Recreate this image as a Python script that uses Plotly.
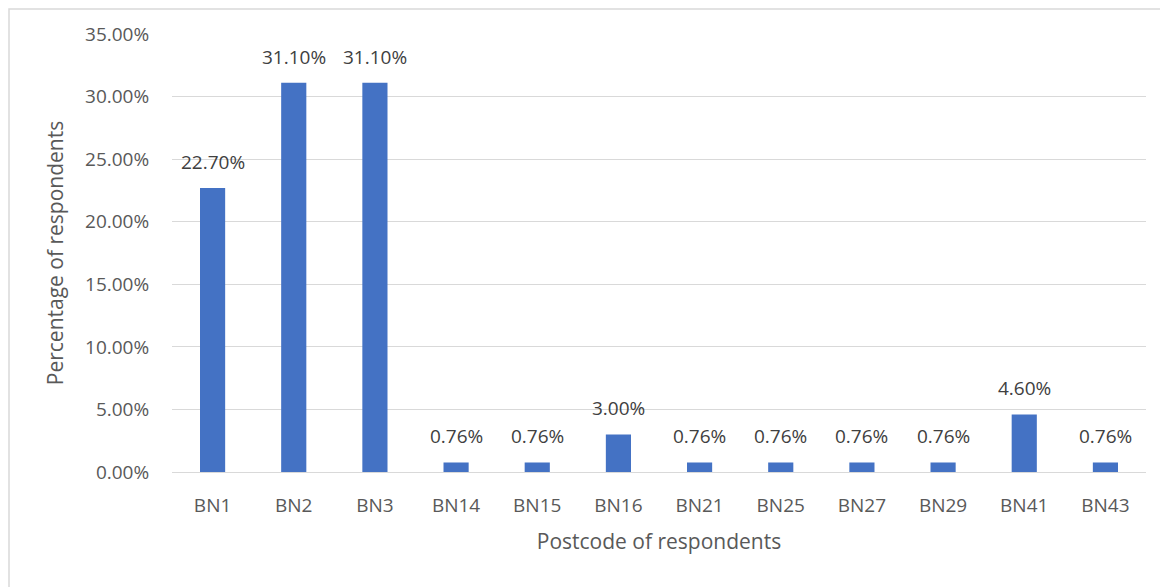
import plotly.graph_objects as go

categories = ["BN1", "BN2", "BN3", "BN14", "BN15", "BN16", "BN21", "BN25", "BN27", "BN29", "BN41", "BN43"]
values = [22.70, 31.10, 31.10, 0.76, 0.76, 3.00, 0.76, 0.76, 0.76, 0.76, 4.60, 0.76]
labels = ["22.70%", "31.10%", "31.10%", "0.76%", "0.76%", "3.00%", "0.76%", "0.76%", "0.76%", "0.76%", "4.60%", "0.76%"]
y_ticks = [0, 5, 10, 15, 20, 25, 30, 35]
y_tick_labels = ["0.00%", "5.00%", "10.00%", "15.00%", "20.00%", "25.00%", "30.00%", "35.00%"]

FONT = "Open Sans"
GREY = "#595959"

fig = go.Figure(go.Bar(
    x=categories,
    y=values,
    marker=dict(color="#4472C4", line=dict(width=0)),
    hoverinfo="x+y",
))

for c, v, t in zip(categories, values, labels):
    fig.add_annotation(
        x=c, y=v, text=t, showarrow=False,
        xref="x", yref="y", yanchor="bottom", yshift=11,
        font=dict(family=FONT, size=19, color="#404040"),
    )

fig.update_layout(
    width=1168, height=587,
    margin=dict(l=164, r=30, t=26, b=123),
    paper_bgcolor="white", plot_bgcolor="white",
    bargap=0.69,
    showlegend=False,
    font=dict(family=FONT, color=GREY),
    xaxis=dict(
        type="category",
        showgrid=False,
        showline=True, linecolor="#d9d9d9", linewidth=1,
        ticks="outside", ticklen=16, tickcolor="rgba(0,0,0,0)",
        tickfont=dict(family=FONT, size=19, color=GREY),
        title=dict(text="Postcode of respondents", font=dict(family=FONT, size=21, color=GREY), standoff=17),
    ),
    yaxis=dict(
        range=[0, 35],
        tickvals=y_ticks, ticktext=y_tick_labels,
        showgrid=True, gridcolor="#d9d9d9", gridwidth=1,
        zeroline=False,
        ticks="outside", ticklen=18, tickcolor="rgba(0,0,0,0)",
        tickfont=dict(family=FONT, size=19, color=GREY),
        title=dict(text="Percentage of respondents", font=dict(family=FONT, size=21, color=GREY), standoff=15),
    ),
    shapes=[
        dict(type="rect", xref="paper", yref="paper",
             x0=-163 / 974, x1=1 + 40 / 974, y0=-200 / 438, y1=1 + 25 / 438,
             line=dict(color="#d9d9d9", width=1.5), fillcolor="rgba(0,0,0,0)", layer="below"),
    ],
)

fig.write_html("out.html")
